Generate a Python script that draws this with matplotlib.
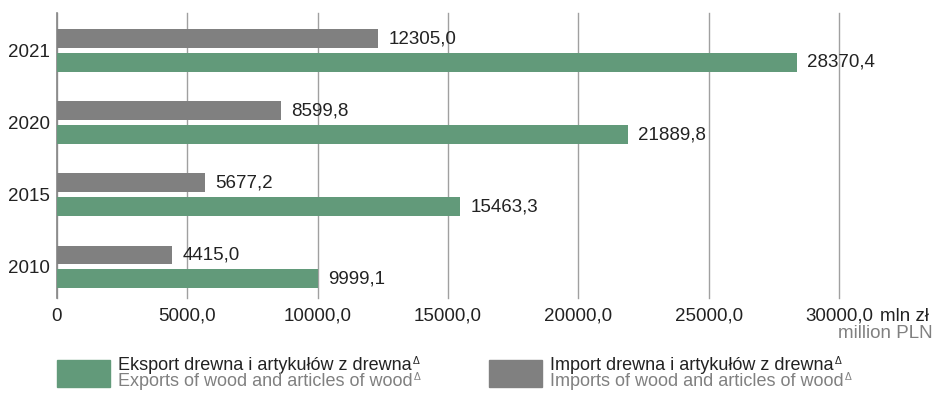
import matplotlib.pyplot as plt
from matplotlib.patches import Rectangle
import numpy as np

plt.rcParams['font.family'] = ['Liberation Sans', 'DejaVu Sans']

years = ['2010', '2015', '2020', '2021']
exports = [9999.1, 15463.3, 21889.8, 28370.4]
imports = [4415.0, 5677.2, 8599.8, 12305.0]
xticks = [0, 5000, 10000, 15000, 20000, 25000, 30000]
xtick_labels = ['0', '5000,0', '10000,0', '15000,0', '20000,0', '25000,0', '30000,0']

GREEN = '#629a7a'
GRAY = '#808080'
TXT = '#222222'
FS = 13.5


def fmt(v):
    return f'{v:.1f}'.replace('.', ',')


fig = plt.figure(figsize=(9.37, 3.94), dpi=100)
ax = fig.add_axes([57 / 937, 1 - 298 / 394, (839 - 57) / 937, 285 / 394])

y = np.arange(len(years))
h = 0.263
off = 0.166
ax.barh(y + off, imports, height=h, color=GRAY, zorder=3)
ax.barh(y - off, exports, height=h, color=GREEN, zorder=3)

for yi, v in zip(y, imports):
    ax.annotate(fmt(v), (v, yi + off), xytext=(7.5, 0), textcoords='offset points',
                va='center', ha='left', fontsize=FS, color=TXT)
for yi, v in zip(y, exports):
    ax.annotate(fmt(v), (v, yi - off), xytext=(7.5, 0), textcoords='offset points',
                va='center', ha='left', fontsize=FS, color=TXT)

ax.set_xlim(0, 30000)
ax.set_ylim(-0.43, 3.52)
ax.set_xticks(xticks)
ax.set_xticklabels(xtick_labels, fontsize=FS, color=TXT)
ax.set_yticks(y)
ax.set_yticklabels(years, fontsize=FS, color=TXT)
ax.tick_params(length=0, pad=7)
ax.tick_params(axis='y', pad=5)
ax.grid(axis='x', color='#a0a0a0', linewidth=1, zorder=0)
for gl in ax.get_xgridlines():
    gl.set_clip_on(False)
for s in ['top', 'right', 'bottom']:
    ax.spines[s].set_visible(False)
ax.spines['left'].set_color('#888888')
ax.spines['left'].set_linewidth(1.2)

ax.annotate('mln zł', (30000, 0), xycoords=('data', 'axes fraction'),
            xytext=(29.5, -7), textcoords='offset points', ha='left', va='top',
            fontsize=FS, color=TXT)
fig.text(933 / 937, 1 - 334 / 394, 'million PLN', ha='right', va='center',
         fontsize=FS, color=GRAY)

# legend
LFS = 13
for x0, col, pl, en in [(57, GREEN, 'Eksport drewna i artykułów z drewna',
                         'Exports of wood and articles of wood'),
                        (489, GRAY, 'Import drewna i artykułów z drewna',
                         'Imports of wood and articles of wood')]:
    fig.add_artist(Rectangle((x0 / 937, 1 - 387 / 394), 53 / 937, 27 / 394,
                             transform=fig.transFigure, color=col))
    for txt, c, yb in [(pl, TXT, 370), (en, GRAY, 386)]:
        t = fig.text((x0 + 61) / 937, 1 - yb / 394, txt, ha='left',
                     va='baseline', fontsize=LFS, color=c)
        ax.annotate('Δ', xy=(1, 0), xycoords=t, xytext=(1, 13),
                    textcoords='offset points', ha='left', va='top',
                    fontsize=7.5, color=c, annotation_clip=False)

fig.savefig('out.png', dpi=100)
